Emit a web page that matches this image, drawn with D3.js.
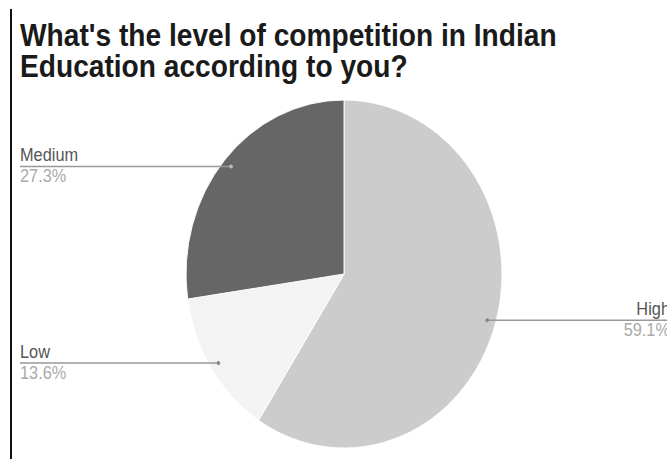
<!DOCTYPE html>
<html>
<head>
<meta charset="utf-8">
<script src="https://cdn.jsdelivr.net/npm/d3@7"></script>
<style>
  html, body { margin: 0; padding: 0; background: #fff; }
  svg { display: block; }
  text { font-family: "Liberation Sans", Arial, sans-serif; }
</style>
</head>
<body>
<svg id="chart" width="667" height="459"></svg>
<script>
// Survey answers
const categories = ["High", "Low", "Medium"];
const shares = [59.1, 13.6, 27.3];
const shareLabels = ["59.1%", "13.6%", "27.3%"];
const sliceColors = ["#cccccc", "#f3f3f3", "#666666"];
const titleLines = ["What's the level of competition in Indian", "Education according to you?"];

const W = 667, H = 459;
const sx = 0.908;               // horizontal compression of the whole figure
const cx = 344 / sx, cy = 274;  // pie centre (in uncompressed units)
const R = 174;

const svg = d3.select("#chart");
svg.append("rect").attr("width", W).attr("height", H).attr("fill", "#fff");

// left rule
svg.append("line")
  .attr("x1", 11).attr("x2", 11).attr("y1", 9).attr("y2", H)
  .attr("stroke", "#111").attr("stroke-width", 2);

const root = svg.append("g").attr("transform", `scale(${sx},1)`);

// title
root.append("g").selectAll("text")
  .data(titleLines)
  .join("text")
  .attr("x", 20 / sx)
  .attr("y", (d, i) => 46 + i * 31)
  .attr("font-size", 31)
  .attr("font-weight", "bold")
  .attr("fill", "#1a1a1a")
  .text(d => d);

const data = categories.map((c, i) => ({ cat: c, value: shares[i], label: shareLabels[i], color: sliceColors[i] }));

const pie = d3.pie().sort(null).value(d => d.value);
const arcs = pie(data);
const arc = d3.arc().innerRadius(0).outerRadius(R);

const g = root.append("g").attr("transform", `translate(${cx},${cy})`);

g.selectAll("path")
  .data(arcs)
  .join("path")
  .attr("d", arc)
  .attr("fill", d => d.data.color)
  .attr("stroke", "#fff")
  .attr("stroke-width", 1);

// leader lines and labels
const leaderR = 0.945 * R;
arcs.forEach(a => {
  const mid = (a.startAngle + a.endAngle) / 2;
  const px = cx + Math.sin(mid) * leaderR;
  const py = cy - Math.cos(mid) * leaderR;
  const right = Math.sin(mid) > 0;
  const tx = right ? 670 / sx : 20 / sx;

  root.append("line")
    .attr("x1", px).attr("y1", py)
    .attr("x2", tx).attr("y2", py)
    .attr("stroke", "#999").attr("stroke-width", 1.5);

  root.append("circle")
    .attr("cx", px).attr("cy", py).attr("r", 2)
    .attr("fill", a.data.cat === "Medium" ? "#bbbbbb" : "#888888");

  root.append("text")
    .attr("x", tx).attr("y", py - 5)
    .attr("text-anchor", right ? "end" : "start")
    .attr("font-size", 18)
    .attr("fill", "#555")
    .text(a.data.cat);

  root.append("text")
    .attr("x", tx).attr("y", py + 16)
    .attr("text-anchor", right ? "end" : "start")
    .attr("font-size", 18)
    .attr("fill", "#aaa")
    .text(a.data.label);
});
</script>
</body>
</html>
